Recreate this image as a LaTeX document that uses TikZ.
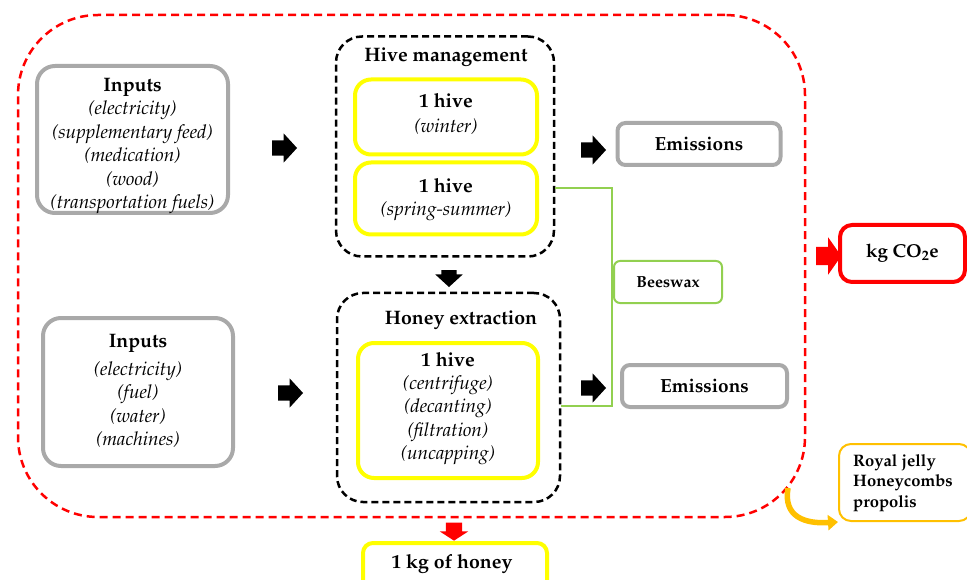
\documentclass[tikz,border=0pt]{standalone}
\usepackage[T1]{fontenc}
\usepackage{mathpazo}
\usetikzlibrary{shapes.arrows,arrows.meta,calc}
\definecolor{boxgray}{HTML}{A9A9A9}
\definecolor{hiveyellow}{HTML}{FFFF00}
\definecolor{waxgreen}{HTML}{92D050}
\definecolor{gold}{HTML}{FFC000}
\definecolor{cored}{HTML}{FF0000}
\tikzset{
  graybox/.style={draw=boxgray, line width=4pt, rounded corners=18pt, align=center, inner sep=0pt},
  yellowbox/.style={draw=hiveyellow, line width=4pt, rounded corners=16pt, align=center, inner sep=0pt},
  stagebox/.style={draw=black, line width=2.5pt, dash pattern=on 7pt off 4pt, rounded corners=26pt, inner sep=0pt},
  blockarrow/.style={single arrow, fill=black, draw=none, minimum height=25pt, minimum width=0pt, inner xsep=0pt, inner ysep=7.5pt, single arrow head extend=7pt, single arrow tip angle=95},
  redarrow/.style={blockarrow, fill=cored},
  ttl/.style={font=\fontsize{19.5}{23}\selectfont\bfseries},
  itl/.style={font=\fontsize{19}{23.5}\selectfont, align=center},
}
\begin{document}
\begin{tikzpicture}[x=1pt,y=-1pt]
\useasboundingbox (0,0) rectangle (967,580);
% outer system boundary
\node[draw=cored, line width=2.5pt, dash pattern=on 8pt off 5pt, rounded corners=80pt, minimum width=787pt, minimum height=502pt, inner sep=0pt] (sys) at (411.5,266) {};

% inputs 1
\node[graybox, minimum width=191pt, minimum height=147pt] (in1) at (132.5,139.5) {};
\node[ttl] (in1t) at (132.5,87) {Inputs};
\node[itl] (in1l) at (132.5,157.5) {\itshape (electricity)\\\itshape (supplementary feed)\\\itshape (medication)\\\itshape (wood)\\\itshape (transportation fuels)};

% inputs 2
\node[graybox, minimum width=190pt, minimum height=148pt] (in2) at (138,392) {};
\node[ttl] (in2t) at (138,343) {Inputs};
\node[itl] (in2l) at (138,404.5) {\itshape (electricity)\\\itshape (fuel)\\\itshape (water)\\\itshape (machines)};

% hive management
\node[stagebox, minimum width=218pt, minimum height=220pt] (hm) at (445,146.5) {};
\node[ttl] (hmt) at (446,57) {Hive management};
\node[yellowbox, minimum width=182pt, minimum height=75pt] (h1) at (446,117) {};
\node[ttl] (h1t) at (446,101) {1 hive};
\node[itl] (h1l) at (446,127) {\itshape (winter)};
\node[yellowbox, minimum width=182pt, minimum height=72pt] (h2) at (446,198.5) {};
\node[ttl] (h2t) at (446,186) {1 hive};
\node[itl] (h2l) at (446,211) {\itshape (spring-summer)};

% honey extraction
\node[stagebox, minimum width=223pt, minimum height=209pt] (hx) at (448.5,397.5) {};
\node[ttl] (hxt) at (461,320) {Honey extraction};
\node[yellowbox, minimum width=180pt, minimum height=135pt] (hxb) at (448,410.5) {};
\node[ttl] (hxbt) at (448,360) {1 hive};
\node[itl] (hxbl) at (448,420.5) {\itshape (centrifuge)\\\itshape (decanting)\\\itshape (filtration)\\\itshape (uncapping)};

% emissions
\node[graybox, rounded corners=8pt, minimum width=163pt, minimum height=42pt, font=\fontsize{19}{22}\selectfont\bfseries] (em1) at (699,144) {Emissions};
\node[graybox, rounded corners=8pt, minimum width=165pt, minimum height=42pt, font=\fontsize{19}{22}\selectfont\bfseries] (em2) at (704.5,386) {Emissions};

% beeswax and green connector
\coordinate (g1) at (612,188);
\coordinate (g2) at (612,406);
\draw[draw=waxgreen, line width=2pt] (g1 -| hm.east) -- (g1) -- (g2) -- (g2 -| hx.east);
\node[draw=waxgreen, line width=2pt, rounded corners=6pt, fill=white, minimum width=108pt, minimum height=42pt, inner sep=0pt, font=\fontsize{16}{19}\selectfont\bfseries, anchor=west] (bw) at (613,282) {Beeswax};

% kg CO2e
\node[draw=cored, line width=4pt, rounded corners=12pt, minimum width=125pt, minimum height=57pt, inner sep=0pt, font=\fontsize{18.7}{22}\selectfont\bfseries] (co2) at (902.5,253.5) {kg CO\textsubscript{2}e};

% royal jelly
\node[draw=gold, line width=2pt, rounded corners=12pt, minimum width=132pt, minimum height=77pt, inner sep=0pt, anchor=west] (rj) at (838,482.5) {};
\node[font=\fontsize{16.6}{20.5}\selectfont\bfseries, align=left, anchor=west, inner sep=0pt] (rjt) at (853,483) {Royal jelly\\Honeycombs\\propolis};
\coordinate (rjs) at (788,488);
\draw[draw=gold, line width=5.5pt, -{Triangle[length=10pt,width=15pt]}] (rjs) .. controls (783,517) and (805,524) .. (rj.south west);

% 1 kg of honey
\node[yellowbox, rounded corners=10pt, minimum width=184pt, minimum height=52pt, anchor=north] (kg) at (455,541) {};
\node[font=\fontsize{19.5}{23}\selectfont\bfseries] (kgt) at (452,564) {1 kg of honey};

% block arrows
\node[blockarrow] (a1) at (281,148) {};
\node[blockarrow] (a2) at (287,393) {};
\node[blockarrow] (a3) at (590,150) {};
\node[blockarrow] (a4) at (590,388) {};
\node[blockarrow, rotate=-90, minimum height=17pt, inner ysep=7.5pt, single arrow head extend=6pt] (a5) at (449,275) {};
\node[redarrow, rotate=-90, minimum height=18pt, inner ysep=8pt, single arrow head extend=6pt, single arrow tip angle=114] (a6) at (454,529) {};
\node[redarrow, minimum height=25pt, inner ysep=9pt, single arrow head extend=9.5pt, single arrow tip angle=110] (a7) at (825.5,256) {};
\end{tikzpicture}
\end{document}
